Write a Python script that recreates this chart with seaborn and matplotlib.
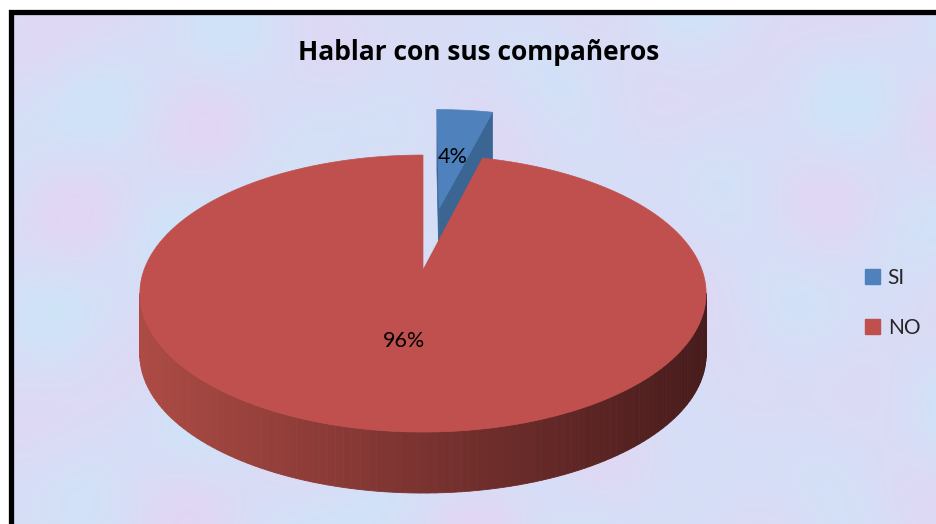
import numpy as np
import matplotlib
matplotlib.use("Agg")
import matplotlib.pyplot as plt
import seaborn as sns
from matplotlib.patches import Polygon, Patch

sns.set_theme(style="white")
plt.rcParams["font.family"] = ["Lato", "DejaVu Sans"]

# datos
title = "Hablar con sus compañeros"
categories = ["SI", "NO"]
values = [4, 96]
explode = [0.5, 0.0]

top_colors = ["#4F81BD", "#C0504D"]
face_colors = ["#3B6592", "#8E3A37"]
side_left = [(0.30, 0.46, 0.66), (172 / 255, 74 / 255, 68 / 255)]
side_right = [(0.17, 0.29, 0.44), (72 / 255, 28 / 255, 28 / 255)]

# geometria del pastel 3D (pixeles de la figura)
CX, CY = 423, 270
A, B, G = 279, 134.5, -0.17
DEPTH = 61
CAM_V = -1 / G


def project(u, v, drop=0.0):
    d = 1 + G * v
    return CX + A * u / d, CY + B * v / d + drop


def mix(c1, c2, f):
    f = min(max(f, 0), 1)
    return tuple(a + (b - a) * f for a, b in zip(c1, c2))


fig = plt.figure(figsize=(9.36, 5.24), dpi=100)
ax = fig.add_axes([0, 0, 1, 1])

# fondo con textura suave
yy, xx = np.mgrid[0:512, 0:926]
t = (np.sin(xx / 41.0) * np.cos(yy / 33.0) + 0.6 * np.sin((xx + 2 * yy) / 57.0)
     + 0.4 * np.cos((3 * xx - yy) / 71.0))
t = (t - t.min()) / (t.max() - t.min())
c_blue = np.array([206, 228, 248]) / 255
c_pink = np.array([226, 214, 244]) / 255
bg = c_blue[None, None, :] * (1 - t[..., None]) + c_pink[None, None, :] * t[..., None]
ax.imshow(bg, extent=(10, 936, 524, 12), zorder=0, interpolation="bilinear")
ax.set_xlim(0, 936)
ax.set_ylim(524, 0)
ax.axis("off")
ax.plot([10.5, 10.5, 936], [524, 11.5, 11.5], color="black", lw=3.8,
        solid_joinstyle="miter", zorder=1)

total = sum(values)
start = 0.0
slices = []
for cat, val, ex in zip(categories, values, explode):
    th0 = start
    th1 = start + 360.0 * val / total
    slices.append((cat, val, ex, th0, th1))
    start = th1

for i, (cat, val, ex, th0, th1) in enumerate(slices):
    mid = np.radians((th0 + th1) / 2)
    eu, ev = ex * np.sin(mid), -ex * np.cos(mid)
    ts = np.radians(np.linspace(th0, th1, 240))

    # lateral exterior
    for a0, a1 in zip(ts[:-1], ts[1:]):
        am = (a0 + a1) / 2
        pu, pv = eu + np.sin(am), ev - np.cos(am)
        nu, nv = np.sin(am), -np.cos(am)
        if (0 - pu) * nu + (CAM_V - pv) * nv <= 0:
            continue
        p0 = project(eu + np.sin(a0), ev - np.cos(a0))
        p1 = project(eu + np.sin(a1), ev - np.cos(a1))
        q1 = project(eu + np.sin(a1), ev - np.cos(a1), DEPTH)
        q0 = project(eu + np.sin(a0), ev - np.cos(a0), DEPTH)
        f = ((p0[0] + p1[0]) / 2 - (CX - A)) / (2 * A)
        col = mix(side_left[i], side_right[i], f)
        ax.add_patch(Polygon([p0, p1, q1, q0], closed=True, facecolor=col,
                             edgecolor=col, lw=0.6, zorder=2))

    # caras radiales
    for th, sgn in ((th0, -1), (th1, 1)):
        a = np.radians(th)
        nu, nv = sgn * np.cos(a), sgn * np.sin(a)
        pu, pv = eu + 0.5 * np.sin(a), ev - 0.5 * np.cos(a)
        if (0 - pu) * nu + (CAM_V - pv) * nv <= 0:
            continue
        c0 = project(eu, ev)
        r0 = project(eu + np.sin(a), ev - np.cos(a))
        pts = [c0, r0, (r0[0], r0[1] + DEPTH), (c0[0], c0[1] + DEPTH)]
        ax.add_patch(Polygon(pts, closed=True, facecolor=face_colors[i],
                             edgecolor=face_colors[i], lw=0.5, zorder=2))

    # cara superior
    pts = [project(eu, ev)] + [project(eu + np.sin(a), ev - np.cos(a)) for a in ts]
    ax.add_patch(Polygon(pts, closed=True, facecolor=top_colors[i],
                         edgecolor=top_colors[i], lw=0.5, zorder=2))

# etiquetas de porcentaje
for cat, val, ex, th0, th1 in slices:
    mid = np.radians((th0 + th1) / 2)
    r = ex + 0.49
    lx, ly = project(r * np.sin(mid), -r * np.cos(mid))
    ax.text(lx, ly, f"{val / total * 100:.0f}%", ha="center", va="center",
            fontsize=15.5, color="black", zorder=5)

ax.text(479, 52, title, ha="center", va="center", fontsize=19,
        fontweight="bold", color="black", zorder=5,
        family=["Open Sans", "DejaVu Sans"])

handles = [Patch(facecolor=c, edgecolor=c) for c in top_colors]
ax.legend(handles, categories, loc="center left",
          bbox_to_anchor=(855 / 936, 1 - 303 / 524), frameon=False,
          fontsize=15, handlelength=0.72, handleheight=0.72,
          handletextpad=0.35, labelspacing=1.43, borderpad=0)

fig.savefig("out.png", dpi=100)
